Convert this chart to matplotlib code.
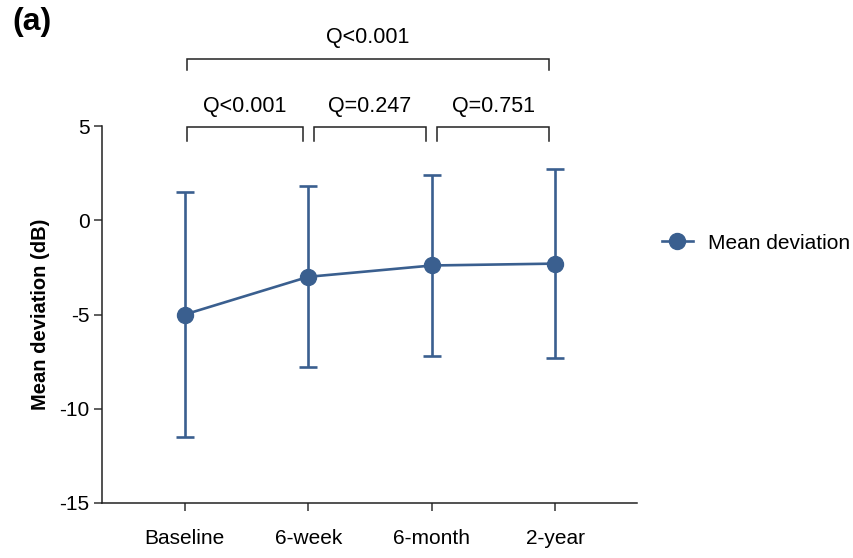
import matplotlib
matplotlib.use("Agg")
import matplotlib.pyplot as plt
from matplotlib.lines import Line2D
import numpy as np

plt.rcParams['font.family'] = ['Liberation Sans', 'DejaVu Sans']

categories = ["Baseline", "6-week", "6-month", "2-year"]
means = [-5.0, -3.0, -2.4, -2.3]
sds = [6.5, 4.8, 4.8, 5.0]
series_name = "Mean deviation"
yticks = [5, 0, -5, -10, -15]
ytick_labels = ["5", "0", "-5", "-10", "-15"]
# brackets: (x_start, x_end, label, level)
brackets = [(0, 3, "Q<0.001", "top"),
            (0, 1, "Q<0.001", "low"),
            (1, 2, "Q=0.247", "low"),
            (2, 3, "Q=0.751", "low")]

color = '#3a5f8f'
W, H = 854, 558
fig = plt.figure(figsize=(W/100, H/100), dpi=100)
ax_l, ax_r, ax_t, ax_b = 102, 637, 126, 503
ax = fig.add_axes([ax_l/W, 1-ax_b/H, (ax_r-ax_l)/W, (ax_b-ax_t)/H])

x = np.arange(len(categories))
ax.errorbar(x, means, yerr=sds, color=color, lw=1.9, marker='o', markersize=11.5,
            capsize=6.5, capthick=1.9, elinewidth=1.9, clip_on=False, zorder=3)

ax.set_xlim(-0.67, 3.66)
ax.set_ylim(-15, 5)
ax.set_xticks(x)
ax.set_xticklabels(categories, fontsize=15)
ax.set_yticks(yticks)
ax.set_yticklabels(ytick_labels, fontsize=15)
for s in ['top', 'right']:
    ax.spines[s].set_visible(False)
for s in ['left', 'bottom']:
    ax.spines[s].set_linewidth(1.1)
    ax.spines[s].set_color('#222222')
ax.tick_params(axis='both', length=6, width=1.1, color='#333333', pad=3)
ax.tick_params(axis='x', pad=13)
ax.set_ylabel("Mean deviation (dB)", fontsize=14.5, fontweight='bold', labelpad=7)

gap = 0.045
for (a, b, lab, level) in brackets:
    if level == "top":
        y_top, y_bot, y_txt = 8.54, 7.96, 9.7
        xa, xb = a + 0.016, b - 0.05
    else:
        y_top, y_bot, y_txt = 4.93, 4.19, 6.05
        xa = a + (0.016 if a == 0 else gap)
        xb = b - (0.05 if b == 3 else gap)
    ax.plot([xa, xa, xb, xb], [y_bot, y_top, y_top, y_bot], color='#222222', lw=1.1,
            clip_on=False, solid_joinstyle='miter')
    ax.text((xa+xb)/2, y_txt, lab, ha='center', va='center', fontsize=15.5)

handle = Line2D([], [], color=color, lw=1.9, marker='o', markersize=11.5)
ax.legend([handle], [series_name], loc='center left', bbox_to_anchor=(643/W, 1-243/H),
          bbox_transform=fig.transFigure, frameon=False, fontsize=15,
          handlelength=1.5, handletextpad=0.7)

fig.text(12/W, 1-22/H, "(a)", fontsize=23, fontweight='bold', ha='left', va='center')

fig.savefig("out.png", dpi=100)
